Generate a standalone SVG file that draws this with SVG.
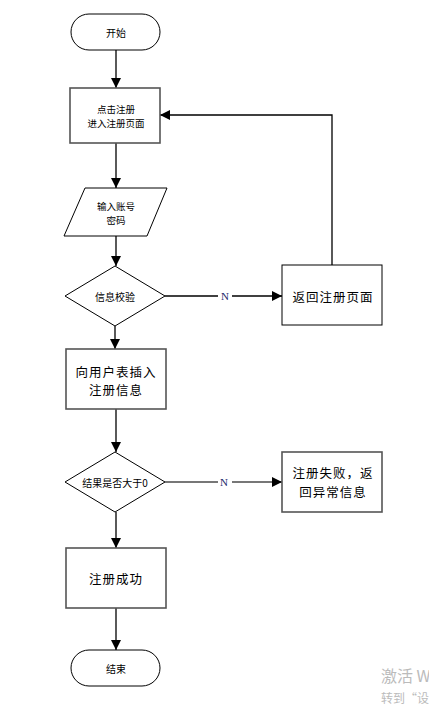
<svg xmlns="http://www.w3.org/2000/svg" width="429" height="709" viewBox="0 0 429 709">
<style>
.s{fill:#fff;stroke:#000;stroke-width:1}
.b{fill:#fff;stroke:#555;stroke-width:1.6}
.c{fill:none;stroke:#000;stroke-width:1.3}
.g{fill:none;stroke:#777;stroke-width:2}
.t{font-family:"Noto Sans CJK SC","Liberation Sans",sans-serif;fill:#000;text-anchor:middle;dominant-baseline:central}
.sm{font-size:10px}
.sm2{font-size:9.5px}
.lg{font-size:12.5px;letter-spacing:1px}
.n{font-family:"Liberation Serif",serif;font-size:11px;fill:#1a2a6a;text-anchor:middle;dominant-baseline:central}
.w{font-family:"Noto Sans CJK SC",sans-serif;fill:#bbb}
</style>
<defs>
<marker id="a" viewBox="0 0 10 10" refX="10" refY="5" markerWidth="10" markerHeight="10" markerUnits="userSpaceOnUse" orient="auto">
<path d="M0,0L10,5L0,10z" fill="#000"/>
</marker>
</defs>
<g id="connectors">
<path class="c" d="M116,50V88" marker-end="url(#a)"/>
<path class="c" d="M116,143V188" marker-end="url(#a)"/>
<path class="c" d="M116,236V266" marker-end="url(#a)"/>
<path class="c" d="M115,326V349" marker-end="url(#a)"/>
<path class="c" d="M165,296H282" marker-end="url(#a)"/>
<path class="c" d="M332,265V115H160" marker-end="url(#a)"/>
<path class="c" d="M116,409V452" marker-end="url(#a)"/>
<path class="g" d="M165,482H273"/>
<path class="c" d="M272,482H282" marker-end="url(#a)"/>
<path class="c" d="M116,512V548" marker-end="url(#a)"/>
<path class="c" d="M116,608V650" marker-end="url(#a)"/>
<rect x="218" y="290" width="14" height="12" fill="#fff"/>
<text class="n" x="225" y="296">N</text>
<rect x="218" y="476" width="14" height="12" fill="#fff"/>
<text class="n" x="224" y="482">N</text>
</g>
<g id="start"><rect class="s" x="71" y="14" width="89" height="36" rx="18"/><text class="t sm" x="116" y="32">开始</text></g>
<g id="click"><rect class="b" x="70" y="88" width="90" height="55"/><text class="t sm2" x="116" y="109">点击注册</text><text class="t sm2" x="116" y="123">进入注册页面</text></g>
<g id="input"><polygon class="s" points="85,188 167,188 147,236 64,236"/><text class="t sm2" x="116" y="205.5">输入账号</text><text class="t sm2" x="116" y="219.5">密码</text></g>
<g id="check"><polygon class="s" points="115,266 165,296 115,326 65,296"/><text class="t sm" x="115" y="296">信息校验</text></g>
<g id="back"><rect class="s" x="282" y="265" width="100" height="60"/><text class="t lg" x="333" y="296">返回注册页面</text></g>
<g id="insert"><rect class="b" x="66" y="349" width="100" height="60"/><text class="t lg" x="116" y="371">向用户表插入</text><text class="t lg" x="116" y="389">注册信息</text></g>
<g id="result"><polygon class="s" points="115,452 165,482 115,512 65,482"/><text class="t sm" x="115" y="482">结果是否大于0</text></g>
<g id="fail"><rect class="b" x="282" y="452" width="100" height="60"/><text class="t lg" x="333" y="472">注册失败，返</text><text class="t lg" x="333" y="491">回异常信息</text></g>
<g id="ok"><rect class="b" x="66" y="548" width="100" height="60"/><text class="t lg" x="116" y="578">注册成功</text></g>
<g id="end"><rect class="s" x="71" y="650" width="89" height="36" rx="18"/><text class="t sm" x="116" y="668">结束</text></g>
<text class="w" x="381" y="682" font-size="16">激活 Windows</text>
<text class="w" x="381" y="703" font-size="12">转到“设置”以激活 Windows。</text>
</svg>
